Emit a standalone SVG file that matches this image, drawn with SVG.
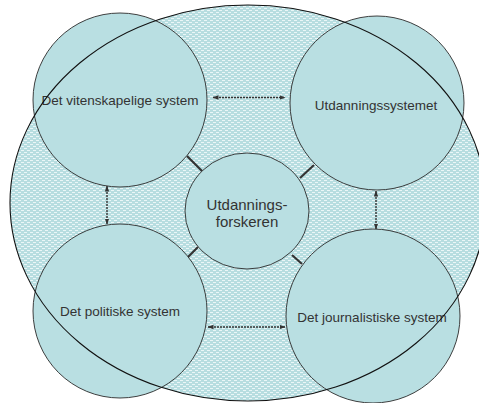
<svg xmlns="http://www.w3.org/2000/svg" width="479" height="403" viewBox="0 0 479 403">
  <defs>
    <!-- speckled fill for the surrounding field -->
    <pattern id="speckle" width="6" height="4" patternUnits="userSpaceOnUse">
      <rect width="6" height="4" fill="#b7dde0"/>
      <rect x="0" y="0" width="3" height="1" fill="#eaf6f7"/>
      <rect x="3" y="2" width="3" height="1" fill="#eaf6f7"/>
    </pattern>
    <marker id="head" viewBox="0 0 6 6" refX="5.5" refY="3" markerWidth="6" markerHeight="6" orient="auto-start-reverse" markerUnits="userSpaceOnUse">
      <path d="M0,0.8 L6,3 L0,5.2 Z" fill="#333"/>
    </marker>
    <style>
      .node { fill: #b9dfe2; stroke: #2a2a2a; stroke-width: 0.9; }
      .label { font-family: "Liberation Sans", Arial, sans-serif; font-size: 13.5px; fill: #333; text-anchor: middle; }
      .big { font-size: 15px; }
      .arrow { stroke: #333; stroke-width: 1.4; stroke-dasharray: 2 1; fill: none; marker-start: url(#head); marker-end: url(#head); }
      .link { stroke: #333; stroke-width: 2.2; fill: none; }
    </style>
  </defs>

  <!-- background field -->
  <ellipse id="field" cx="248" cy="203" rx="238" ry="198" fill="url(#speckle)"/>

  <g id="connectors">
    <line class="arrow" x1="213" y1="97.5" x2="285" y2="97.5"/>
    <line class="arrow" x1="208" y1="327" x2="285" y2="327"/>
    <line class="arrow" x1="107" y1="186" x2="107" y2="224"/>
    <line class="arrow" x1="376" y1="191" x2="376" y2="229"/>
    <line class="link" x1="187" y1="156" x2="202" y2="171"/>
    <line class="link" x1="300" y1="178" x2="314" y2="165"/>
    <line class="link" x1="188" y1="257" x2="198" y2="247"/>
    <line class="link" x1="292" y1="255" x2="302" y2="264"/>
  </g>

  <g id="vitenskap">
    <circle class="node" cx="120" cy="100" r="87"/>
    <text class="label" x="120" y="105">Det vitenskapelige system</text>
  </g>
  <g id="utdanning">
    <circle class="node" cx="377" cy="103" r="87"/>
    <text class="label" x="376" y="110">Utdanningssystemet</text>
  </g>
  <g id="politikk">
    <circle class="node" cx="120" cy="311" r="87"/>
    <text class="label" x="120" y="316">Det politiske system</text>
  </g>
  <g id="journalistikk">
    <circle class="node" cx="373" cy="316" r="87"/>
    <text class="label" x="372" y="322">Det journalistiske system</text>
  </g>
  <g id="forsker">
    <ellipse class="node" cx="247" cy="211" rx="62" ry="58"/>
    <text class="label big" x="247" y="210">Utdannings-</text>
    <text class="label big" x="247" y="227">forskeren</text>
  </g>

  <!-- outline of the field, drawn over the circles -->
  <ellipse id="field-outline" cx="248" cy="203" rx="238" ry="198" fill="none" stroke="#111" stroke-width="1.1"/>
</svg>
